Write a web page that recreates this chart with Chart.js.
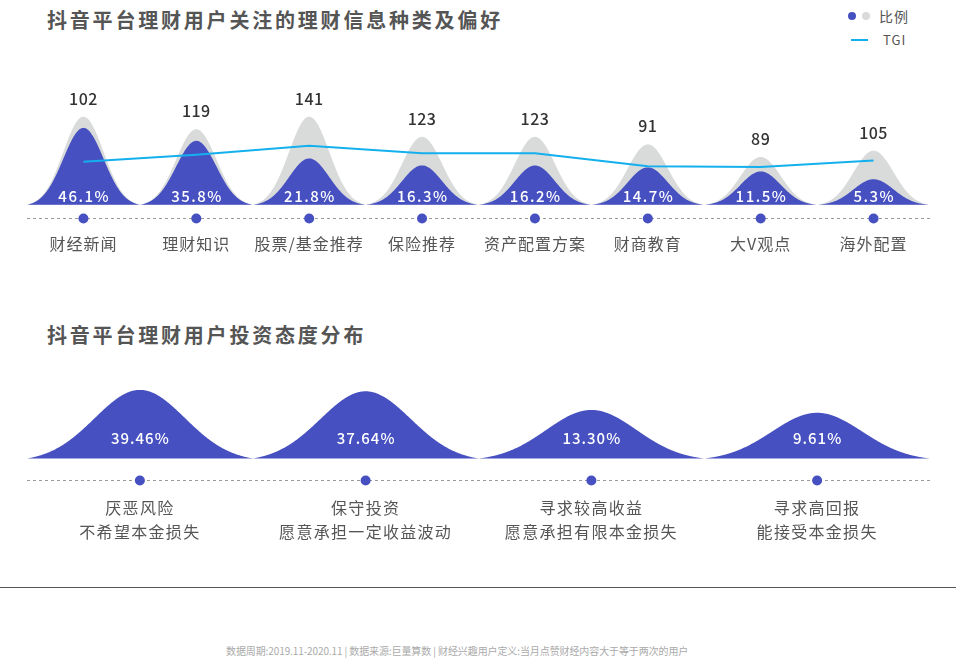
<!DOCTYPE html>
<html>
<head>
<meta charset="utf-8">
<script src="https://cdn.jsdelivr.net/npm/chart.js@4.4.1/dist/chart.umd.min.js"></script>
<style>
  body { margin: 0; width: 956px; height: 670px; background: #fff; position: relative; overflow: hidden;
         font-family: "Noto Sans CJK SC", "Noto Sans", sans-serif; }
  canvas { position: absolute; left: 0; }
  .title { position: absolute; left: 47px; font-size: 20px; font-weight: bold; color: #555;
           letter-spacing: 2.8px; line-height: 28px; white-space: nowrap; }
  .dot { position: absolute; width: 8px; height: 8px; border-radius: 50%; }
  .lg-text { position: absolute; font-size: 14px; color: #555; line-height: 20px; letter-spacing: 1px; }
  .sep { position: absolute; left: 0; top: 587px; width: 956px; height: 1px; background: #555; }
  .foot { position: absolute; left: 226px; top: 643px; font-size: 10px; line-height: 16px; color: #aaa;
          white-space: nowrap; letter-spacing: -0.1px; }
</style>
</head>
<body>
<div class="title" style="top:6px">抖音平台理财用户关注的理财信息种类及偏好</div>

<div class="dot" style="left:848px;top:12px;background:#4650c0"></div>
<div class="dot" style="left:862px;top:12px;background:#d9dbdb"></div>
<div class="lg-text" style="left:879px;top:6px">比例</div>
<div style="position:absolute;left:851px;top:39px;width:17px;height:2px;background:#14b0ee"></div>
<div class="lg-text" style="left:883px;top:30px;font-size:13px">TGI</div>

<canvas id="topChart" width="956" height="290" style="top:0"></canvas>

<div class="title" style="top:321px">抖音平台理财用户投资态度分布</div>
<canvas id="bottomChart" width="956" height="192" style="top:360px"></canvas>

<div class="sep"></div>
<div class="foot">数据周期:2019.11-2020.11 | 数据来源:巨量算数 | 财经兴趣用户定义:当月点赞财经内容大于等于两次的用户</div>

<script>
'use strict';

// 데이터
const infoTypes  = ['财经新闻', '理财知识', '股票/基金推荐', '保险推荐', '资产配置方案', '财商教育', '大V观点', '海外配置'];
const infoShare  = [46.1, 35.8, 21.8, 16.3, 16.2, 14.7, 11.5, 5.3];
const infoBgPeak = [55, 45, 55, 39, 39, 33, 23, 28];
const infoTgi    = [102, 119, 141, 123, 123, 91, 89, 105];

const attitudeLabels = [
  ['厌恶风险', '不希望本金损失'],
  ['保守投资', '愿意承担一定收益波动'],
  ['寻求较高收益', '愿意承担有限本金损失'],
  ['寻求高回报', '能接受本金损失']
];
const attitudeShare = [39.46, 37.64, 13.30, 9.61];

const FONT = '"Noto Sans CJK SC", "Noto Sans", sans-serif';
const BLUE = '#4650c0';
const GREY = '#d9dbdb';
const CYAN = '#14b0ee';

// 종 모양
function drawBell(ctx, cx, base, top, half, spread) {
  const sigma = half / spread;
  const edge  = Math.exp(-(half * half) / (2 * sigma * sigma));
  ctx.beginPath();
  ctx.moveTo(cx - half, base);
  for (let dx = -half; dx <= half; dx += 0.5) {
    const g = (Math.exp(-(dx * dx) / (2 * sigma * sigma)) - edge) / (1 - edge);
    ctx.lineTo(cx + dx, base - (base - top) * g);
  }
  ctx.lineTo(cx + half, base);
  ctx.closePath();
  ctx.fill();
}

function bellPlugin(cfg) {
  return {
    id: 'bells',
    beforeDraw(chart) {
      chart.ctx.letterSpacing = cfg.tickSpacing;
    },
    beforeDatasetDraw(chart, args) {
      const meta = args.meta;
      if (meta.type !== 'bar') return;
      const ctx  = chart.ctx;
      const area = chart.chartArea;
      const x    = chart.scales.x;
      const half = (area.right - area.left) / chart.data.labels.length / 2;
      ctx.save();
      ctx.fillStyle = chart.data.datasets[args.index].backgroundColor;
      meta.data.forEach((el, i) => drawBell(ctx, x.getPixelForValue(i), area.bottom, el.y, half, cfg.spread));
      ctx.restore();
      return false;
    },
    afterDraw(chart) {
      const ctx  = chart.ctx;
      const area = chart.chartArea;
      const x    = chart.scales.x;
      const n    = chart.data.labels.length;
      ctx.save();
      ctx.letterSpacing = '0px';

      // 점선 + 점
      const ly = Math.round(area.bottom + cfg.dotOffset) + 0.5;
      ctx.strokeStyle = '#9a9a9a';
      ctx.lineWidth = 1;
      ctx.setLineDash([3, 3]);
      ctx.beginPath();
      ctx.moveTo(area.left, ly);
      ctx.lineTo(area.right, ly);
      ctx.stroke();
      ctx.setLineDash([]);
      ctx.fillStyle = BLUE;
      for (let i = 0; i < n; i++) {
        ctx.beginPath();
        ctx.arc(x.getPixelForValue(i), ly, 5, 0, Math.PI * 2);
        ctx.fill();
      }

      // 퍼센트
      ctx.textAlign = 'center';
      ctx.textBaseline = 'middle';
      ctx.fillStyle = '#fff';
      ctx.font = `500 15px ${FONT}`;
      ctx.letterSpacing = cfg.pctSpacing + 'px';
      cfg.pctLabels.forEach((t, i) => {
        ctx.fillText(t, x.getPixelForValue(i) + cfg.pctSpacing / 2, area.bottom - cfg.pctOffset);
      });

      // TGI 숫자
      if (cfg.topLabels) {
        const meta = chart.getDatasetMeta(cfg.topDataset);
        ctx.fillStyle = '#333';
        ctx.font = `500 16px ${FONT}`;
        ctx.letterSpacing = '0.5px';
        cfg.topLabels.forEach((t, i) => {
          ctx.fillText(t, x.getPixelForValue(i), meta.data[i].y - 18);
        });
      }
      ctx.restore();
    }
  };
}

// 위 차트
new Chart(document.getElementById('topChart'), {
  type: 'bar',
  data: {
    labels: infoTypes,
    datasets: [
      { type: 'line', label: 'TGI', data: infoTgi, yAxisID: 'y2', borderColor: CYAN,
        borderWidth: 2, pointRadius: 0, tension: 0, order: 0 },
      { label: '比例', data: infoShare, backgroundColor: BLUE, order: 1 },
      { label: '背景', data: infoBgPeak, backgroundColor: GREY, order: 2 }
    ]
  },
  options: {
    responsive: false,
    animation: false,
    events: [],
    layout: { padding: { left: 27, right: 26, top: 60, bottom: 6 } },
    scales: {
      x: {
        grid:   { display: false, drawTicks: false },
        border: { display: false },
        ticks:  { color: '#555', padding: 30, autoSkip: false, maxRotation: 0,
                  font: { family: FONT, size: 16 } }
      },
      y:  { display: false, min: -15, max: 100 },
      y2: { display: false, min: -4, max: 352, position: 'right' }
    },
    plugins: { legend: { display: false }, tooltip: { enabled: false } }
  },
  plugins: [bellPlugin({
    spread: 2.8, dotOffset: 13.5, pctOffset: 9, pctSpacing: 1.5, tickSpacing: '1px',
    pctLabels: infoShare.map(v => v.toFixed(1) + '%'),
    topLabels: infoTgi.map(String), topDataset: 2
  })]
});

// 아래 차트
new Chart(document.getElementById('bottomChart'), {
  type: 'bar',
  data: {
    labels: attitudeLabels,
    datasets: [
      { label: '比例', data: attitudeShare, backgroundColor: BLUE }
    ]
  },
  options: {
    responsive: false,
    animation: false,
    events: [],
    layout: { padding: { left: 27, right: 26, top: 10, bottom: 5 } },
    scales: {
      x: {
        grid:   { display: false, drawTicks: false },
        border: { display: false },
        ticks:  { color: '#555', padding: 38, autoSkip: false, maxRotation: 0,
                  font: { family: FONT, size: 16, lineHeight: 1.46 } }
      },
      y: { display: false, min: -50, max: 65.4 }
    },
    plugins: { legend: { display: false }, tooltip: { enabled: false } }
  },
  plugins: [bellPlugin({
    spread: 2.5, dotOffset: 21.7, pctOffset: 20, pctSpacing: 1, tickSpacing: '1.3px',
    pctLabels: attitudeShare.map(v => v.toFixed(2) + '%')
  })]
});
</script>
</body>
</html>
